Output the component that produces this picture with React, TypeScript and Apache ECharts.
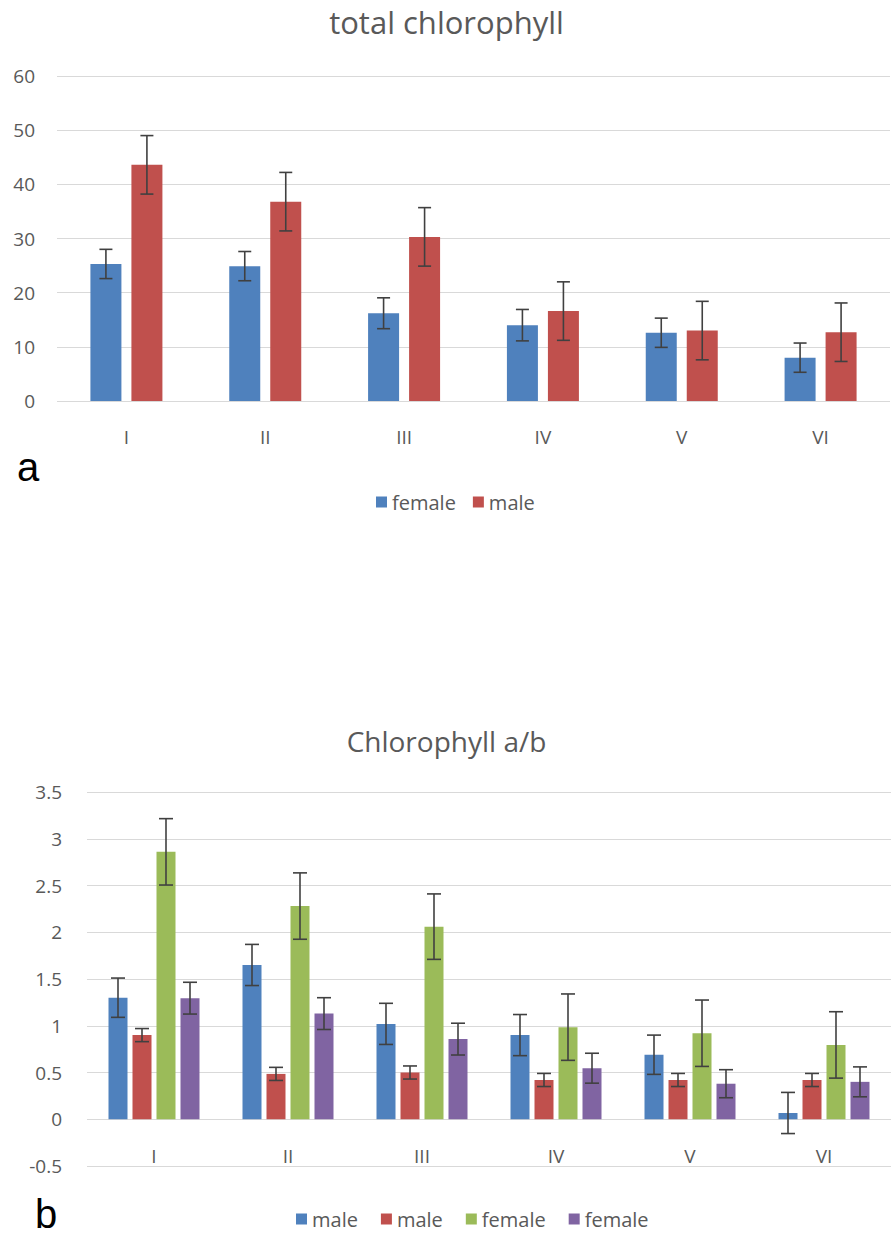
import React, { useEffect, useRef } from "react";
import * as echarts from "echarts";

const categories = ["I", "II", "III", "IV", "V", "VI"];

// chart a: total chlorophyll
const totalFemale = [25.3, 24.9, 16.2, 14.0, 12.6, 8.0];
const totalFemaleErr = [2.7, 2.7, 2.85, 2.9, 2.7, 2.7];
const totalMale = [43.6, 36.8, 30.3, 16.6, 13.0, 12.7];
const totalMaleErr = [5.4, 5.4, 5.4, 5.4, 5.4, 5.4];

// chart b: chlorophyll a/b
const ratioMale1 = [1.3, 1.65, 1.02, 0.9, 0.69, 0.067];
const ratioMale1Err = [0.21, 0.22, 0.22, 0.22, 0.21, 0.22];
const ratioMale2 = [0.9, 0.485, 0.5, 0.42, 0.42, 0.42];
const ratioMale2Err = [0.07, 0.07, 0.07, 0.07, 0.07, 0.07];
const ratioFemale1 = [2.86, 2.28, 2.06, 0.985, 0.92, 0.795];
const ratioFemale1Err = [0.355, 0.355, 0.35, 0.355, 0.355, 0.355];
const ratioFemale2 = [1.295, 1.13, 0.857, 0.546, 0.38, 0.4];
const ratioFemale2Err = [0.17, 0.17, 0.17, 0.16, 0.15, 0.16];

const yTicksA = { min: 0, max: 60, interval: 10 };
const yTicksB = { min: -0.5, max: 3.5, interval: 0.5 };

const BLUE = "#4F81BD";
const RED = "#C0504D";
const GREEN = "#9BBB59";
const PURPLE = "#8064A2";
const TEXT = "#595959";
const GRID = "#D9D9D9";
const ERR = "#404040";
const FONT = "'Open Sans', sans-serif";

const displayNames: Record<string, string> = {
  aFemale: "female",
  aMale: "male",
  bMale1: "male",
  bMale2: "male",
  bFemale1: "female",
  bFemale2: "female",
};

function errSeries(
  values: number[],
  errs: number[],
  gridIdx: number,
  offset: number,
  capHalf: number
) {
  const data = values.map((v, i) => [i, v - errs[i], v + errs[i]]);
  return {
    type: "custom",
    xAxisIndex: gridIdx,
    yAxisIndex: gridIdx,
    z: 5,
    silent: true,
    encode: { x: 0, y: [1, 2] },
    data,
    renderItem: (params: any, api: any) => {
      const idx = api.value(0);
      const lo = api.coord([idx, api.value(1)]);
      const hi = api.coord([idx, api.value(2)]);
      const x = lo[0] + offset;
      const style = { stroke: ERR, lineWidth: 1.6 };
      return {
        type: "group",
        children: [
          { type: "line", shape: { x1: x, y1: lo[1], x2: x, y2: hi[1] }, style },
          { type: "line", shape: { x1: x - capHalf, y1: lo[1], x2: x + capHalf, y2: lo[1] }, style },
          { type: "line", shape: { x1: x - capHalf, y1: hi[1], x2: x + capHalf, y2: hi[1] }, style },
        ],
      };
    },
  };
}

function barSeries(name: string, values: number[], color: string, gridIdx: number, barWidth: number, barGap: string) {
  return {
    type: "bar",
    name,
    xAxisIndex: gridIdx,
    yAxisIndex: gridIdx,
    data: values,
    barWidth,
    barGap,
    itemStyle: { color },
  };
}

export default function App() {
  const ref = useRef<HTMLDivElement>(null);
  useEffect(() => {
    if (!ref.current) return;
    const chart = echarts.init(ref.current, undefined, { renderer: "svg" });

    const bwA = 31;
    const gapA = 10;
    const bwB = 19;
    const gapB = 5;
    const stepA = bwA + gapA;
    const stepB = bwB + gapB;

    const axisLabelStyle = { color: TEXT, fontSize: 19, fontFamily: FONT };

    chart.setOption({
      animation: false,
      backgroundColor: "#ffffff",
      title: [
        {
          text: "total chlorophyll",
          left: "center",
          top: 1,
          textStyle: { color: TEXT, fontSize: 31, fontWeight: "normal", fontFamily: FONT },
        },
        {
          text: "Chlorophyll a/b",
          left: "center",
          top: 722,
          textStyle: { color: TEXT, fontSize: 28, fontWeight: "normal", fontFamily: FONT },
        },
      ],
      legend: [
        {
          data: ["aFemale", "aMale"],
          left: 371,
          top: 487,
          icon: "rect",
          itemWidth: 11,
          itemHeight: 11,
          itemGap: 17,
          formatter: (n: string) => displayNames[n],
          textStyle: { color: TEXT, fontSize: 20, fontFamily: FONT },
          selectedMode: false,
        },
        {
          data: ["bMale1", "bMale2", "bFemale1", "bFemale2"],
          left: 291,
          top: 1204,
          icon: "rect",
          itemWidth: 11,
          itemHeight: 11,
          itemGap: 23,
          formatter: (n: string) => displayNames[n],
          textStyle: { color: TEXT, fontSize: 20, fontFamily: FONT },
          selectedMode: false,
        },
      ],
      grid: [
        { left: 57, right: 3, top: 76, height: 325 },
        { left: 87, right: 2, top: 792, height: 374 },
      ],
      xAxis: [
        {
          type: "category",
          gridIndex: 0,
          data: categories,
          axisLine: { show: false },
          axisTick: { show: false },
          axisLabel: { ...axisLabelStyle, margin: 26 },
        },
        {
          type: "category",
          gridIndex: 1,
          data: categories,
          axisLine: { show: false },
          axisTick: { show: false },
          axisLabel: { ...axisLabelStyle, inside: true, margin: 1 },
        },
      ],
      yAxis: [
        {
          type: "value",
          gridIndex: 0,
          ...yTicksA,
          axisLine: { show: false },
          axisTick: { show: false },
          splitLine: { lineStyle: { color: GRID, width: 1 } },
          axisLabel: { ...axisLabelStyle, margin: 22 },
        },
        {
          type: "value",
          gridIndex: 1,
          ...yTicksB,
          axisLine: { show: false },
          axisTick: { show: false },
          splitLine: { lineStyle: { color: GRID, width: 1 } },
          axisLabel: { ...axisLabelStyle, margin: 25 },
        },
      ],
      graphic: [
        {
          type: "text",
          x: 28,
          y: 467,
          style: {
            text: "a",
            fontSize: 40,
            fontFamily: "'Liberation Sans', Arial, sans-serif",
            fill: "#000000",
            align: "center",
            verticalAlign: "middle",
          },
        },
        {
          type: "text",
          x: 46,
          y: 1214,
          style: {
            text: "b",
            fontSize: 40,
            fontFamily: "'Liberation Sans', Arial, sans-serif",
            fill: "#000000",
            align: "center",
            verticalAlign: "middle",
          },
        },
      ],
      series: [
        barSeries("aFemale", totalFemale, BLUE, 0, bwA, (gapA / bwA) * 100 + "%"),
        barSeries("aMale", totalMale, RED, 0, bwA, (gapA / bwA) * 100 + "%"),
        errSeries(totalFemale, totalFemaleErr, 0, -0.5 * stepA, 6.5),
        errSeries(totalMale, totalMaleErr, 0, 0.5 * stepA, 6.5),
        barSeries("bMale1", ratioMale1, BLUE, 1, bwB, (gapB / bwB) * 100 + "%"),
        barSeries("bMale2", ratioMale2, RED, 1, bwB, (gapB / bwB) * 100 + "%"),
        barSeries("bFemale1", ratioFemale1, GREEN, 1, bwB, (gapB / bwB) * 100 + "%"),
        barSeries("bFemale2", ratioFemale2, PURPLE, 1, bwB, (gapB / bwB) * 100 + "%"),
        errSeries(ratioMale1, ratioMale1Err, 1, -1.5 * stepB, 7),
        errSeries(ratioMale2, ratioMale2Err, 1, -0.5 * stepB, 7),
        errSeries(ratioFemale1, ratioFemale1Err, 1, 0.5 * stepB, 7),
        errSeries(ratioFemale2, ratioFemale2Err, 1, 1.5 * stepB, 7),
      ],
    });
    return () => chart.dispose();
  }, []);

  return (
    <div
      ref={ref}
      style={{ position: "absolute", left: 0, top: 0, width: 893, height: 1236, background: "#fff" }}
    />
  );
}
